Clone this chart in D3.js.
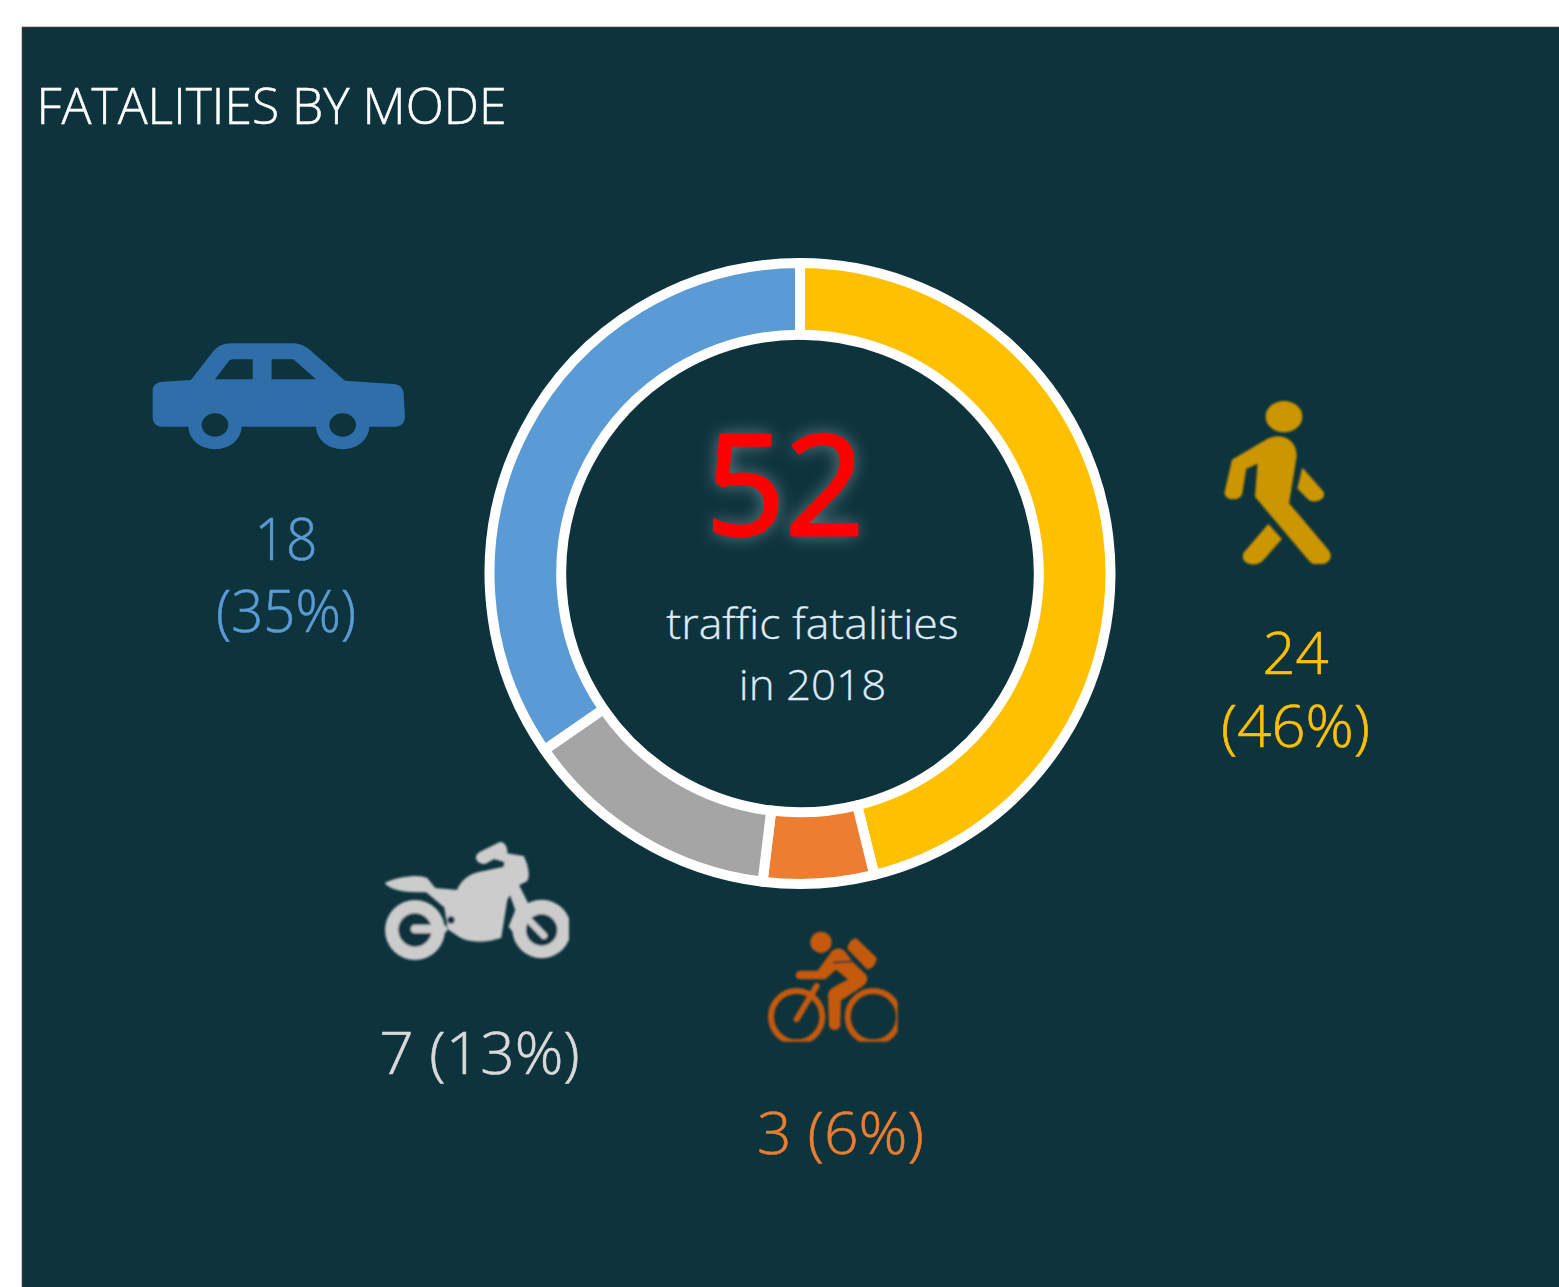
<!DOCTYPE html>
<html><head><meta charset="utf-8">
<style>html,body{margin:0;padding:0;background:#fff;overflow:hidden}svg{display:block}</style>
<script src="https://cdn.jsdelivr.net/npm/d3@7"></script></head><body>
<svg id="c" width="1559" height="1287"></svg>
<script>
const categories=["Pedestrian","Bicycle","Motorcycle","Car"];
const values=[24,3,7,18];
const percents=[46,6,13,35];
const totalLabel="52";
const title="FATALITIES BY MODE";
const centerLines=["traffic fatalities","in 2018"];
const sliceColors=["#FFC000","#ED7D31","#A5A5A5","#5B9BD5"];
const labelColors=["#FFC000","#ED7D31","#D9D9D9","#5B9BD5"];
const labelLayout=[
 {x:1295.5,lines:[[674,"{v}",1.0],[747,"({p}%)",1.03]]},
 {x:840.5,lines:[[1154,"{v} ({p}%)",1.045]]},
 {x:479.5,lines:[[1074,"{v} ({p}%)",1.04]]},
 {x:286,lines:[[560,"{v}",0.95],[632,"({p}%)",0.97]]}
];
const FONT="'Open Sans',sans-serif";
const svg=d3.select("#c");
const BG="#0D333D";
const defs=svg.append("defs");
const glow=defs.append("filter").attr("id","glow").attr("x","-30%").attr("y","-30%").attr("width","160%").attr("height","160%");
glow.append("feGaussianBlur").attr("in","SourceGraphic").attr("stdDeviation",9);
const soft=defs.append("filter").attr("id","soft").attr("x","-5%").attr("y","-5%").attr("width","110%").attr("height","110%");
soft.append("feGaussianBlur").attr("stdDeviation",2.4);
defs.append("clipPath").attr("id","motoClip").append("rect").attr("x",0).attr("y",0).attr("width",597).attr("height",420);
defs.append("clipPath").attr("id","bikeClip").append("rect").attr("x",0).attr("y",0).attr("width",443).attr("height",365);

svg.append("rect").attr("x",22.5).attr("y",27.5).attr("width",1560).attr("height",1300)
  .attr("fill",BG).attr("stroke","#333").attr("stroke-width",1.5);
svg.append("text").attr("x",36.5).attr("y",124).attr("fill","#fff").attr("stroke","#fff").attr("stroke-width",0.5).attr("font-family",FONT).attr("font-weight",300)
  .attr("font-size",50).attr("textLength",470).attr("lengthAdjust","spacingAndGlyphs").text(title);

const cx=800,cy=573.5;
const pie=d3.pie().sort(null).value(d=>d)(values);
const arc=d3.arc().innerRadius(238.8).outerRadius(310.5);
svg.append("g").attr("transform",`translate(${cx},${cy})`).selectAll("path").data(pie).join("path")
  .attr("d",arc).attr("fill",(d,i)=>sliceColors[i]).attr("stroke","#fff").attr("stroke-width",10).attr("stroke-linejoin","round");

const total=svg.append("g").attr("font-family",FONT).attr("font-size",139).attr("text-anchor","middle");
total.append("text").attr("x",785).attr("y",535).attr("fill","#fff").attr("opacity",0.45).attr("filter","url(#glow)").text(totalLabel);
total.append("text").attr("x",785).attr("y",535).attr("fill","#FF0000").attr("stroke","#FF0000").attr("stroke-width",3).attr("stroke-linejoin","round").text(totalLabel);

function fit(sel,k){const n=sel.node();sel.attr("textLength",n.getComputedTextLength()*k).attr("lengthAdjust","spacingAndGlyphs");}
[[0,639,1.04],[1,700,1.02]].forEach(([i,y,k])=>{
  const t=svg.append("text").attr("x",812.5).attr("y",y).attr("text-anchor","middle").attr("font-family",FONT).attr("font-weight",300)
    .attr("font-size",43).attr("fill","#DEEBF7").attr("stroke","#DEEBF7").attr("stroke-width",0.3).text(centerLines[i]);
  fit(t,k);
});
labelLayout.forEach((l,i)=>{
  l.lines.forEach(([y,t,k])=>{
    const s=svg.append("text").attr("x",l.x).attr("y",y).attr("text-anchor","middle").attr("font-family",FONT).attr("font-weight",300)
      .attr("font-size",58).attr("fill",labelColors[i]).attr("stroke",labelColors[i]).attr("stroke-width",0.6)
      .text(t.replace("{v}",values[i]).replace("{p}",percents[i]));
    fit(s,k);
  });
});

// Icons, drawn in the 3x crop space of each icon
const car=svg.append("g").attr("transform","translate(130,320) scale(0.3333)");
car.append("path").attr("fill-rule","evenodd").attr("fill","#2F6EA8").attr("d",
 "M100 185L183 180L245 100C262 78 280 70 305 70L485 70C510 70 525 78 540 90L645 182L790 192C810 194 820 202 821 220L825 290C825 310 812 320 795 320L718 320A80 68 0 0 1 558 320L335 320A80 68 0 0 1 175 320L95 320C78 320 68 308 68 292L68 212C68 195 80 186 100 185Z"
 +"M255 178L295 125C299 120 303 118 310 118L368 118L368 178Z"
 +"M425 118L490 118L558 178L425 178Z"
 +"M215 315a40 35 0 1 0 80 0a40 35 0 1 0 -80 0Z"
 +"M598 315a40 35 0 1 0 80 0a40 35 0 1 0 -80 0Z");

const walk=svg.append("g").attr("transform","translate(1180,390) scale(0.3333)").attr("fill","#CC9600").attr("stroke","#CC9600").attr("stroke-width",4).attr("stroke-linejoin","round").attr("filter","url(#soft)");
walk.append("ellipse").attr("cx",312).attr("cy",80).attr("rx",53).attr("ry",45);
walk.append("path").attr("d","M158 210L265 147C310 128 350 155 348 200L325 340L443 480C462 505 440 522 420 520L400 520C392 518 386 508 227 320L235 218L197 235L185 310C180 330 142 333 135 310Z");
walk.append("path").attr("d","M368 237L428 305C438 325 410 340 387 328L354 295Z");
walk.append("path").attr("d","M265 405L303 447L245 513C225 528 182 523 192 490Z");

const moto=svg.append("g").attr("transform","translate(370,830) scale(0.3333)").attr("filter","url(#soft)");
const mg=moto.append("g").attr("clip-path","url(#motoClip)");
const G="#CCCCCC";
mg.append("path").attr("fill",G).attr("stroke",G).attr("stroke-width",4).attr("stroke-linejoin","round").attr("d","M47 160C80 142 140 135 170 145L195 176L262 182C275 150 300 130 345 124L402 112L405 95L372 85L345 100C320 100 312 80 330 68L390 38C405 38 412 55 410 72L460 80C475 110 478 140 470 152L445 165L475 225L455 240L478 295L430 305L418 290L438 240L420 190L410 210L392 322C350 337 300 337 270 320L235 297L225 232L170 185C120 185 70 185 47 160Z");
mg.append("circle").attr("cx",135).attr("cy",300).attr("r",90).attr("fill",G);
mg.append("circle").attr("cx",135).attr("cy",300).attr("r",50).attr("fill",BG);
mg.append("rect").attr("x",122).attr("y",284).attr("width",110).attr("height",26).attr("rx",13).attr("fill",G);
mg.append("circle").attr("cx",243).attr("cy",270).attr("r",11).attr("fill",BG);
mg.append("circle").attr("cx",515).attr("cy",297).attr("r",88).attr("fill",G);
mg.append("circle").attr("cx",515).attr("cy",300).attr("r",47).attr("fill",BG);
mg.append("line").attr("x1",478).attr("y1",272).attr("x2",522).attr("y2",317).attr("stroke",G).attr("stroke-width",20).attr("stroke-linecap","round");

const bike=svg.append("g").attr("transform","translate(750,920) scale(0.3333)").attr("filter","url(#soft)");
const bg=bike.append("g").attr("clip-path","url(#bikeClip)");
const O="#C55A11";
bg.selectAll("circle.w").data([[140],[370]]).join("circle").attr("cx",d=>d[0]).attr("cy",290).attr("r",77).attr("fill","none").attr("stroke",O).attr("stroke-width",18);
bg.append("line").attr("x1",140).attr("y1",298).attr("x2",200).attr("y2",198).attr("stroke",O).attr("stroke-width",18).attr("stroke-linecap","round");
bg.append("circle").attr("cx",213).attr("cy",67).attr("r",32).attr("fill",O);
bg.append("path").attr("fill",O).attr("stroke",O).attr("stroke-width",6).attr("stroke-linejoin","round").attr("d","M318 58L377 115C377 130 365 145 352 145L295 85C298 70 305 60 318 58Z");
bg.append("path").attr("fill",O).attr("stroke",O).attr("stroke-width",6).attr("stroke-linejoin","round").attr("d","M150 155L205 155L248 95C258 85 272 85 282 95L308 130L345 165C355 180 345 190 335 198L270 240L268 318C262 330 245 330 240 318L237 225C237 212 245 205 300 180L258 145L225 175L150 175C137 174 137 157 150 155Z");
bg.append("line").attr("x1",250).attr("y1",128).attr("x2",308).attr("y2",124).attr("stroke",BG).attr("stroke-width",5);
</script></body></html>
